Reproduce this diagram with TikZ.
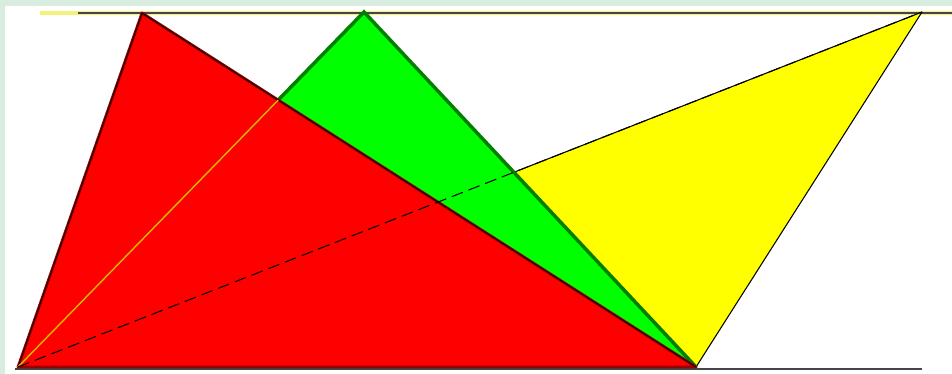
\documentclass[tikz,border=0pt]{standalone}
\usetikzlibrary{calc}
\definecolor{framegreen}{RGB}{216,236,224}
\definecolor{edgegreen}{RGB}{0,128,0}
\definecolor{edgered}{RGB}{150,0,0}
\definecolor{lineyellow}{RGB}{215,185,0}
\definecolor{rulegray}{RGB}{70,70,70}
\definecolor{puryellow}{RGB}{255,255,0}
\definecolor{purgreen}{RGB}{0,255,0}
\definecolor{purred}{RGB}{255,0,0}
\definecolor{paleyellow}{RGB}{245,240,120}
\tikzset{
    tri/.style={fill=#1, line join=round},
    rule/.style={line width=0.9pt, color=rulegray},
    greenedge/.style={line width=2pt, color=edgegreen, line cap=round},
    diag/.style={line width=0.6pt, black, dash pattern=on 6.8pt off 3.4pt},
}

\begin{document}
\begin{tikzpicture}[x=0.02cm, y=-0.02cm]
    \useasboundingbox (0,0) rectangle (952,374);
    \fill[framegreen] (0,0) rectangle (952,374);
    \fill[white] (5,6) rectangle (952,374);

    % corners of the triangles
    \coordinate (A) at (18,367);
    \coordinate (B) at (142,13);
    \coordinate (C) at (696,367);
    \coordinate (D) at (364,12);
    \coordinate (E) at (922,12);
    \coordinate (F) at (intersection of A--D and B--C);

    % base lines
    \coordinate (topL) at (40,13);
    \coordinate (topM) at (78,13);
    \coordinate (topR) at (952,13);
    \coordinate (botL) at (15,369);
    \coordinate (botR) at (922,369);
    \draw[line width=1.8pt, paleyellow] (topL) -- (topR);
    \draw[rule] (topM) -- (topR);
    \draw[rule] (botL) -- (botR);

    \filldraw[tri=puryellow, draw=black, line width=0.6pt] (A) -- (E) -- (C) -- cycle;
    \fill[tri=purgreen] (A) -- (D) -- (C) -- cycle;
    \draw[greenedge] (F) -- (D) -- (C);
    \filldraw[tri=purred, draw=edgered, line width=1.6pt] (A) -- (B) -- (C) -- cycle;
    \draw[line width=0.4pt, black] (A) -- (B) -- (C);
    \draw[line width=0.8pt, lineyellow] (A) -- (F);
    \draw[diag] (A) -- (E);
\end{tikzpicture}
\end{document}
